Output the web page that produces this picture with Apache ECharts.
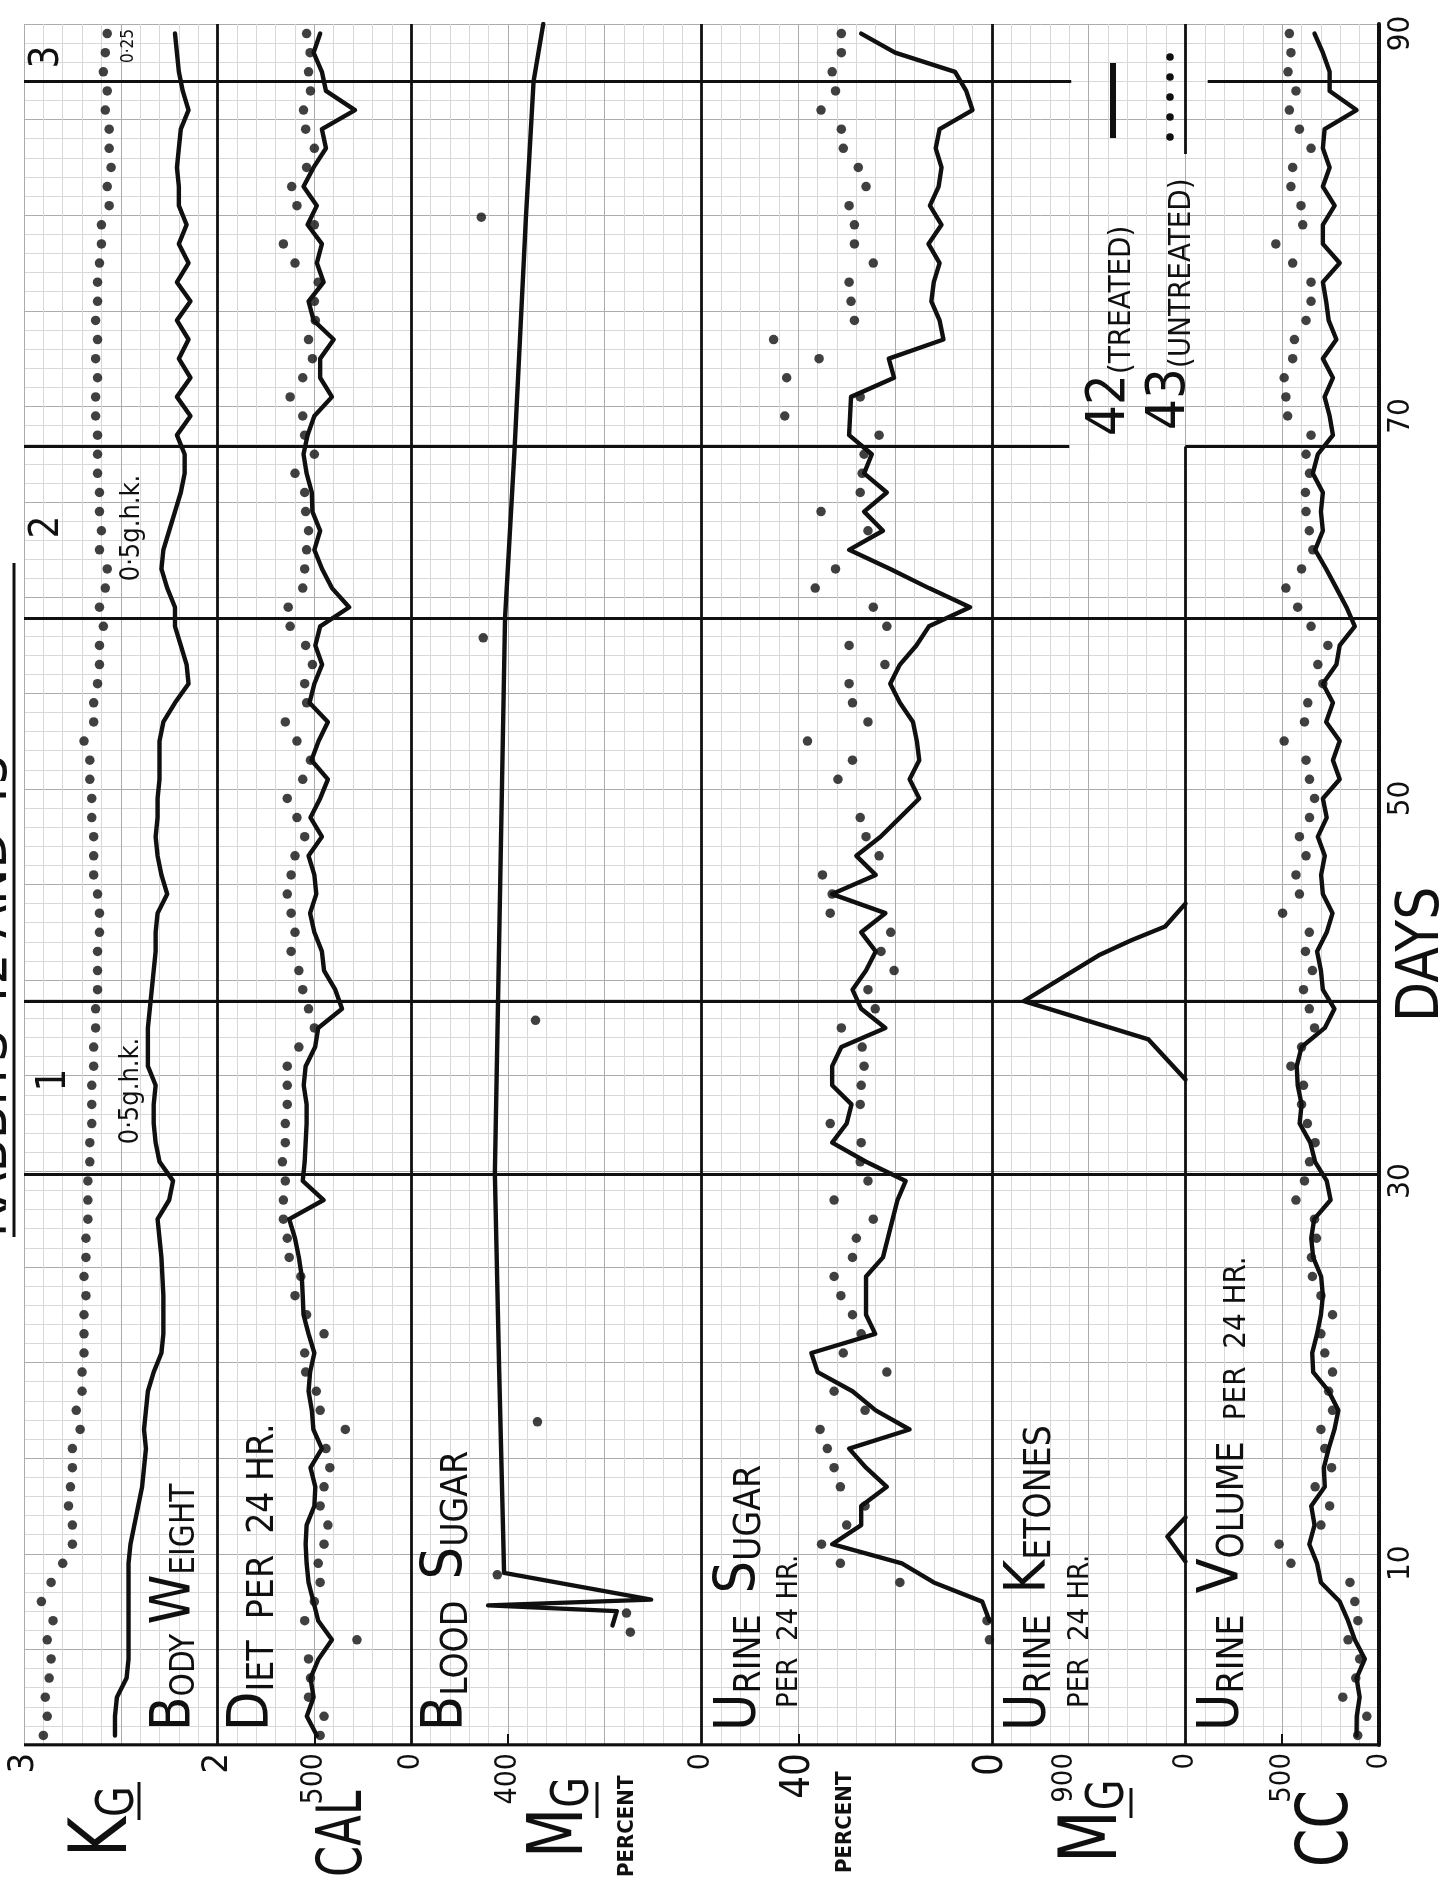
<!DOCTYPE html>
<html>
<head>
<meta charset="utf-8">
<title>Rabbits 42 and 43</title>
<script src="https://cdn.jsdelivr.net/npm/echarts@6/dist/echarts.min.js"></script>
<style>
html,body{margin:0;padding:0;background:#fff;}
#chart{width:1446px;height:1884px;}
</style>
</head>
<body>
<div id="chart"></div>
<script>
// ---------------- DATA ----------------
const days = [1,2,3,4,5,6,7,8,9,10,11,12,13,14,15,16,17,18,19,20,21,22,23,24,25,26,27,28,29,30,
  31,32,33,34,35,36,37,38,39,40,41,42,43,44,45,46,47,48,49,50,51,52,53,54,55,56,57,58,59,60,
  61,62,63,64,65,66,67,68,69,70,71,72,73,74,75,76,77,78,79,80,81,82,83,84,85,86,87,88,89,90];

// Body weight, kg (42 treated = line, 43 untreated = dots)
const kgTreated = [2.53,2.53,2.52,2.47,2.46,2.46,2.46,2.46,2.46,2.46,
  2.45,2.43,2.41,2.39,2.38,2.37,2.38,2.37,2.36,2.33,
  2.29,2.28,2.28,2.28,2.285,2.29,2.30,2.31,2.25,2.23,
  2.30,2.32,2.33,2.33,2.32,2.36,2.36,2.36,2.35,2.34,
  2.33,2.32,2.32,2.31,2.26,2.29,2.31,2.32,2.31,2.31,
  2.30,2.30,2.30,2.28,2.22,2.15,2.16,2.19,2.22,2.22,
  2.26,2.29,2.28,2.25,2.22,2.19,2.17,2.17,2.21,2.14,
  2.21,2.14,2.20,2.15,2.21,2.14,2.21,2.15,2.20,2.16,
  2.20,2.20,2.21,2.20,2.19,2.15,2.18,2.20,2.21,2.22];
const kgUntreated = [2.90,2.88,2.89,2.87,2.86,2.88,2.85,2.91,2.86,2.80,
  2.75,2.75,2.77,2.76,2.75,2.75,2.71,2.73,2.70,2.70,
  2.69,2.69,2.69,2.68,2.69,2.68,2.68,2.67,2.67,2.67,
  2.66,2.66,2.65,2.65,2.65,2.64,2.64,2.63,2.63,2.62,
  2.62,2.62,2.61,2.61,2.62,2.64,2.64,2.64,2.65,2.65,
  2.66,2.66,2.69,2.64,2.64,2.62,2.61,2.61,2.59,2.61,
  2.58,2.57,2.61,2.60,2.61,2.61,2.62,2.62,2.62,2.63,
  2.63,2.62,2.63,2.62,2.63,2.62,2.62,2.61,2.60,2.60,
  2.56,2.57,2.55,2.56,2.56,2.58,2.57,2.59,2.58,2.57];

// Diet per 24 hr, calories
const calTreated = [487,539,504,520,478,409,480,505,530,540,
  545,540,500,495,520,461,505,513,530,522,
  500,530,556,560,565,580,600,630,452,560,
  550,545,540,540,555,545,496,480,357,392,
  450,461,500,522,490,500,530,461,520,470,
  430,515,478,430,525,500,460,495,470,320,
  409,460,500,470,510,513,540,556,535,500,
  409,470,470,400,504,530,452,487,461,535,
  487,556,504,440,461,290,440,461,504,470];
const calUntreated = [470,450,530,520,530,280,550,500,470,480,
  450,430,470,450,420,440,340,470,490,545,
  550,450,540,600,570,630,640,660,660,650,
  665,650,650,640,640,640,580,500,530,560,
  580,620,600,620,640,620,600,550,590,640,
  560,520,590,650,540,550,510,545,625,635,
  560,550,540,530,545,550,600,500,550,560,
  625,560,510,530,495,500,480,600,660,500,
  590,617,540,500,545,556,520,530,522,540];

// Blood sugar, mg per cent
const bloodSugarTreatedDays = [6.75,7.5,7.8,8.1,9.5,11.7,20,30.4,40,45.5,59.4,68.4,80.3,87.5,90.5];
const bloodSugarTreated =     [184, 175,441,104,408,410, 418,427, 420,416, 406, 386, 363, 347, 327];
const bloodSugarUntreatedDays = [6.4,7.4,9.4,17.4,38.4,58.4,80.4];
const bloodSugarUntreated =     [147,155,422,339, 343, 451, 455];

// Urine sugar per 24 hr, per cent
const urineSugarTreated = [null,null,null,null,null,null,0.5,2,12,18.6,
  33,27,27,21.7,26,29.5,17,24,28.8,36,
  37.3,24.1,26,26,26,22.5,21.5,20.5,19.5,17.8,
  26,33,30,29,33,33,31.1,22,27,28.8,
  26,24,27,22,33,24,28,23,19,15,
  17,15,15.5,16.3,19,21,19,15.6,13,4.5,
  13,21,29.5,22.5,26.4,21.7,26.4,24.8,29.5,29.3,
  29.1,20.2,21.3,10,10.8,12.5,12,10.8,13.1,10.4,
  12.8,11,10.4,11.6,10.8,4,5.3,7.6,20,27];
const urineSugarUntreated = [null,null,null,null,null,0.5,1,null,19,31.3,
  35.2,30,26.2,31.3,32.6,34,35.5,26.2,32.6,21.7,
  30.7,27,28.8,31.2,32.6,28.8,28,24.5,32.6,25.6,
  27.2,27,33.4,27.2,27,26.4,26.8,31.1,24.1,25.6,
  20.2,22.9,20.9,33.4,33,35,23.3,26,27.2,null,
  31.8,28.8,38.1,25.6,28.8,29.5,22.1,29.5,21.7,24.5,
  36.5,32.3,null,25.6,35.3,27.2,26.8,26.4,23.3,42.8,
  27.2,42.4,35.7,45.1,28.4,29.1,29.5,24.5,28.4,28.4,
  29.5,26,27.6,30.7,31.1,35.3,32.3,33,31.1,31.1];

// Urine ketones per 24 hr, mg (treated only)
const ketoneEpisode1Days = [10.1,11.4,12.4];
const ketoneEpisode1 =     [0,   134, 0];
const ketoneEpisode2Days = [35.3,37.4,39.4,41.8,42.6,43.3,44.5];
const ketoneEpisode2 =     [0,   275, 1202,645, 398, 151, 0];

// Urine volume per 24 hr, cc
const ccTreated = [116,115,100,116,73,125,160,203,300,320,
  360,333,350,280,285,260,230,210,260,340,
  345,320,300,290,299,340,350,335,250,270,
  330,355,410,400,420,425,400,280,230,290,
  300,320,270,240,290,299,280,316,270,290,
  203,238,203,273,238,290,220,203,125,168,
  220,273,330,290,300,290,342,316,238,255,
  281,238,290,220,260,273,290,203,290,290,
  229,290,255,290,281,116,255,255,290,333];
const ccUntreated = [110,63,187,120,100,160,109,125,150,455,
  516,300,255,330,245,280,300,240,260,240,
  280,300,240,300,344,349,323,333,429,385,
  359,330,370,400,390,455,400,333,360,390,
  344,380,360,498,411,429,377,411,359,333,
  359,377,490,385,368,290,316,264,351,420,
  481,400,342,360,377,380,359,377,351,472,
  481,490,446,437,377,351,351,446,533,394,
  403,455,446,351,411,463,429,470,455,463];

// Axis tick labels
const dayTickLabels = [10,30,50,70,90];
const kgTicks = [3,2];
const calTicks = [500,0];
const mgTicks = [400,0];
const pctTicks = [40,0];
const ketTicks = [900,0];
const ccTicks = [500,0];

// Heavy ruled lines on the sheet (days) and panel boundaries (paper cells)
const treatmentDays = [30.35,39.4,59.4,68.4,87.5];
const panelCells = [0,2,4,7,10,12,14];

// ---------------- LAYOUT / STYLE ----------------
const F = "'Liberation Sans Narrow','DejaVu Sans Condensed','Arial Narrow','Liberation Sans',sans-serif";
const INK = '#101010';
const PAPER_MINOR = '#d8d8d8';
const PAPER_MAJOR = '#ababab';
const L = 24, T = 24, W = 1355, H = 1721;
const cellW = W / 14;
const R = Math.PI / 2;

const panels = [
  {min:2, max:3,    ticks:kgTicks,  tickMarks:[],    fs:36},
  {min:0, max:1000, ticks:calTicks, tickMarks:[500], fs:30},
  {min:0, max:600,  ticks:mgTicks,  tickMarks:[400], fs:30},
  {min:0, max:60,   ticks:pctTicks, tickMarks:[40],  fs:40},
  {min:0, max:1440, ticks:ketTicks, tickMarks:[],    fs:29},
  {min:0, max:1000, ticks:ccTicks,  tickMarks:[500], fs:29}
];

const grids = [{left:L, top:T, width:W, height:H}];
const xAxes = [{
  gridIndex:0, type:'value', min:0, max:14, interval:1,
  axisLine:{show:false}, axisTick:{show:false}, axisLabel:{show:false},
  splitLine:{show:true, lineStyle:{color:PAPER_MAJOR, width:1}},
  minorTick:{show:false, splitNumber:5},
  minorSplitLine:{show:true, lineStyle:{color:PAPER_MINOR, width:1}}
}];
const yAxes = [{
  gridIndex:0, type:'value', min:0, max:90, interval:5,
  axisLine:{show:false}, axisTick:{show:false}, axisLabel:{show:false},
  splitLine:{show:true, lineStyle:{color:PAPER_MAJOR, width:1}},
  minorTick:{show:false, splitNumber:5},
  minorSplitLine:{show:true, lineStyle:{color:PAPER_MINOR, width:1}}
},{
  gridIndex:0, type:'value', min:0.5, max:90.5, position:'right',
  axisLine:{show:true, lineStyle:{color:INK, width:4}},
  axisTick:{show:false}, splitLine:{show:false},
  axisLabel:{customValues:dayTickLabels, rotate:90, margin:6,
    formatter:(v) => '{a|' + v + '}',
    rich:{a:{fontSize:31, fontFamily:F, color:INK}}}
}];

panels.forEach((p, i) => {
  const g = i + 1;
  grids.push({
    left: L + cellW * panelCells[i], top: T,
    width: cellW * (panelCells[i+1] - panelCells[i]), height: H
  });
  xAxes.push({
    gridIndex:g, type:'value', min:p.min, max:p.max, inverse:true,
    axisLine:{show:false}, splitLine:{show:false},
    axisTick: p.tickMarks.length ? {show:true, inside:true, length:11, customValues:p.tickMarks, lineStyle:{color:INK, width:2}} : {show:false},
    axisLabel:{customValues:p.ticks, rotate:90, margin:8, showMinLabel:true, showMaxLabel:true,
      formatter:(v) => '{a|' + v + '}',
      rich:{a:{fontSize:p.fs, fontFamily:F, color:INK}}}
  });
  yAxes.push({gridIndex:g, type:'value', min:0.5, max:90.5, show:false});
});

function pairs(vals, ds) {
  const out = [];
  (ds || days).forEach((d, i) => { if (vals[i] != null) out.push([vals[i], d]); });
  return out;
}
function lineSeries(panel, data) {
  return {type:'line', xAxisIndex:panel+1, yAxisIndex:panel+2, data, symbol:'none', silent:true,
    lineStyle:{color:INK, width:4.4, cap:'round', join:'round'}, z:5};
}
function dotSeries(panel, data) {
  return {type:'scatter', xAxisIndex:panel+1, yAxisIndex:panel+2, data, symbol:'circle', symbolSize:9.5, silent:true,
    itemStyle:{color:INK}, z:5};
}

// frame lines on the sheet (cells x days)
const frame = [];
panelCells.slice(1, 5).forEach(c => frame.push({coords:[[c, 0.5],[c, 90.5]]}));
frame.push({coords:[[12, 0.5],[12, 68.4]]});
frame.push({coords:[[12, 83.7],[12, 90.5]]});
treatmentDays.forEach(d => {
  if (d > 65 && d < 70) { frame.push({coords:[[0,d],[10.8,d]]}); frame.push({coords:[[12,d],[14,d]]}); }
  else if (d > 85) { frame.push({coords:[[0,d],[10.82,d]]}); frame.push({coords:[[12.23,d],[14,d]]}); }
  else frame.push({coords:[[0,d],[14,d]]});
});
frame.push({coords:[[0,0.5],[14,0.5]], lineStyle:{width:3.5}});

const series = [
  {type:'lines', coordinateSystem:'cartesian2d', xAxisIndex:0, yAxisIndex:1, silent:true, z:4,
   lineStyle:{color:INK, width:2.8, opacity:1, curveness:0}, data:frame},
  lineSeries(0, pairs(kgTreated)),
  dotSeries(0, pairs(kgUntreated)),
  lineSeries(1, pairs(calTreated)),
  dotSeries(1, pairs(calUntreated)),
  lineSeries(2, pairs(bloodSugarTreated, bloodSugarTreatedDays)),
  dotSeries(2, pairs(bloodSugarUntreated, bloodSugarUntreatedDays)),
  lineSeries(3, pairs(urineSugarTreated)),
  dotSeries(3, pairs(urineSugarUntreated)),
  lineSeries(4, pairs(ketoneEpisode1, ketoneEpisode1Days)),
  lineSeries(4, pairs(ketoneEpisode2, ketoneEpisode2Days)),
  lineSeries(5, pairs(ccTreated)),
  dotSeries(5, pairs(ccUntreated))
];

// ---------------- TEXT (rotated, reading upward) ----------------
function vt(x, y, text, size, extra, sx) {
  const el = {type:'text', x, y, rotation:R, z:20,
    style:Object.assign({text, fontSize:size, fontFamily:F, fill:INK, align:'left', verticalAlign:'bottom'}, extra || {})};
  if (sx) el.scaleX = sx;
  return el;
}
function rich(bigSize, smallSize, small2) {
  const r = {
    b:{fontSize:bigSize, fontFamily:F, fill:INK, verticalAlign:'bottom'},
    s:{fontSize:smallSize, fontFamily:F, fill:INK, verticalAlign:'bottom'}
  };
  if (small2) r.t = {fontSize:small2, fontFamily:F, fill:INK, verticalAlign:'bottom'};
  return {rich:r};
}
function ctext(x, y, text, size, extra) {
  return {type:'text', x, y, rotation:R, z:20,
    style:Object.assign({text, fontSize:size, fontFamily:F, fill:INK, align:'center', verticalAlign:'middle'}, extra || {})};
}
function seg(x1, y1, x2, y2, w) {
  return {type:'line', z:20, shape:{x1, y1, x2, y2}, style:{stroke:INK, lineWidth:w || 2.5}};
}

const graphics = [
  // title, cut by the page edge
  vt(19, 1237, 'RABBITS 42 AND 43', 54),
  seg(14, 563, 14, 1237, 3),
  // treatment numbers and doses
  ctext(55, 1080, '1', 40),
  ctext(48, 527, '2', 40),
  ctext(48, 57, '3', 40),
  ctext(131, 1091, '0·5g.h.k.', 27),
  ctext(132, 528, '0·5g.h.k.', 27),
  ctext(129, 46, '0·25', 17),
  // panel titles
  vt(202, 1731, '{b|B}{s|ODY }{b|W}{s|EIGHT}', 33, rich(56, 33)),
  vt(282, 1731, '{b|D}{s|IET  PER  24 HR.}', 37, rich(57, 37)),
  vt(476, 1731, '{b|B}{s|LOOD  }{b|S}{s|UGAR}', 37, rich(57, 37)),
  vt(769, 1731, '{b|U}{s|RINE  }{b|S}{s|UGAR}', 37, rich(57, 37)),
  vt(804, 1708, 'PER  24 HR.', 29),
  vt(1059, 1731, '{b|U}{s|RINE  }{b|K}{s|ETONES}', 37, rich(57, 37)),
  vt(1095, 1708, 'PER  24 HR.', 29),
  vt(1252, 1731, '{b|U}{s|RINE  }{b|V}{s|OLUME  }{t|PER  24 HR.}', 37, rich(57, 37, 31)),
  // unit labels under the panels
  vt(145, 1857, '{b|K}{s|G}', 52, rich(80, 52), 0.85),
  seg(139, 1782, 139, 1820, 3),
  vt(376, 1877, 'CAL', 62, null, 0.8),
  vt(600, 1858, '{b|M}{s|G}', 52, rich(76, 52), 0.85),
  seg(597, 1782, 597, 1818, 3),
  vt(638, 1877, 'PERCENT', 22, {fontWeight:'bold'}),
  vt(856, 1873, 'PERCENT', 22, {fontWeight:'bold'}),
  vt(1135, 1863, '{b|M}{s|G}', 52, rich(80, 52), 0.85),
  seg(1131, 1788, 1131, 1818, 3),
  vt(1364, 1867, 'CC', 72, null, 0.85),
  vt(1452, 1022, 'DAYS', 58),
  // legend
  vt(1137, 436, '{b|42}{s|(TREATED)}', 31, rich(54, 31)),
  vt(1197, 430, '{b|43}{s|(UNTREATED)}', 31, rich(54, 31)),
  seg(1113, 63, 1113, 138, 6)
];
[57, 77, 97, 117, 137].forEach(y => graphics.push({type:'circle', z:20, shape:{cx:1170, cy:y, r:3.8}, style:{fill:INK}}));

const chart = echarts.init(document.getElementById('chart'), null, {renderer:'canvas'});
chart.setOption({
  animation:false,
  backgroundColor:'#ffffff',
  grid:grids,
  xAxis:xAxes,
  yAxis:yAxes,
  series:series,
  graphic:graphics
});
</script>
</body>
</html>
